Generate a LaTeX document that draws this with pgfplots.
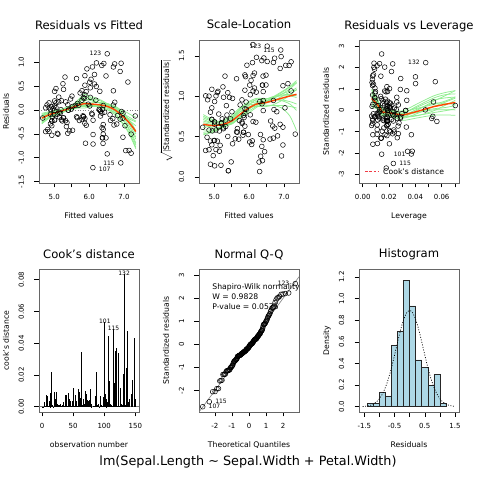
\documentclass[border=0pt]{standalone}
\usepackage{fontspec}
\setmainfont{DejaVu Sans}
\usepackage{pgfplots}
\usepackage{pgfplotstable}
\pgfplotsset{compat=1.18}
\definecolor{lgreen}{RGB}{144,238,144}
\definecolor{ored}{RGB}{255,69,0}
\definecolor{lblue}{RGB}{173,216,230}
\definecolor{cookred}{RGB}{240,60,70}
\newcommand\tks{\fontsize{7}{8}\selectfont}
\newcommand\lbs{\fontsize{7.7}{9}\selectfont}
\newcommand\tts{\fontsize{11.6}{13}\selectfont}
\newcommand\ots{\fontsize{12.8}{15}\selectfont}
\newcommand\pls{\fontsize{6}{7}\selectfont}

\pgfplotstableread{
i f e s h r d
1 5.048 0.052 0.340 0.0204 0.116 0.0001
2 4.849 0.051 0.338 0.0211 0.115 0.0001
3 4.929 -0.229 0.715 0.0184 -0.512 0.0016
4 4.889 -0.289 0.804 0.0193 -0.647 0.0027
5 5.088 -0.088 0.445 0.0227 -0.198 0.0003
6 5.403 -0.003 0.077 0.0327 -0.006 0.0000
7 5.106 -0.506 1.063 0.0170 -1.131 0.0074
8 5.009 -0.009 0.138 0.0189 -0.019 0.0000
9 4.809 -0.409 0.958 0.0237 -0.918 0.0068
10 4.792 0.108 0.493 0.0221 0.243 0.0004
11 5.128 0.272 0.781 0.0259 0.610 0.0033
12 5.009 -0.209 0.683 0.0189 -0.467 0.0014
13 4.752 0.048 0.329 0.0240 0.108 0.0001
14 4.752 -0.452 1.007 0.0240 -1.014 0.0084
15 5.248 0.552 1.118 0.0402 1.249 0.0218
16 5.602 0.098 0.474 0.0704 0.225 0.0013
17 5.403 -0.003 0.077 0.0327 -0.006 0.0000
18 5.146 -0.046 0.319 0.0187 -0.102 0.0001
19 5.265 0.435 0.989 0.0286 0.978 0.0094
20 5.265 -0.165 0.610 0.0286 -0.372 0.0014
21 5.009 0.392 0.936 0.0189 0.876 0.0049
22 5.323 -0.223 0.707 0.0233 -0.500 0.0020
23 5.088 -0.488 1.047 0.0227 -1.095 0.0093
24 5.260 -0.160 0.598 0.0127 -0.358 0.0006
25 5.009 -0.209 0.683 0.0189 -0.467 0.0014
26 4.849 0.151 0.582 0.0211 0.339 0.0008
27 5.203 -0.203 0.673 0.0153 -0.454 0.0011
28 5.048 0.152 0.583 0.0204 0.340 0.0008
29 5.009 0.192 0.655 0.0189 0.429 0.0012
30 4.929 -0.229 0.715 0.0184 -0.512 0.0016
31 4.889 -0.089 0.446 0.0193 -0.199 0.0003
32 5.203 0.197 0.663 0.0153 0.440 0.0010
33 5.191 0.009 0.145 0.0476 0.021 0.0000
34 5.328 0.172 0.626 0.0538 0.393 0.0029
35 4.889 0.011 0.158 0.0193 0.025 0.0000
36 4.929 0.071 0.399 0.0184 0.160 0.0002
37 5.048 0.452 1.006 0.0204 1.012 0.0071
38 4.991 -0.091 0.452 0.0246 -0.205 0.0004
39 4.849 -0.449 1.003 0.0211 -1.006 0.0073
40 5.009 0.092 0.453 0.0189 0.205 0.0003
41 5.146 -0.146 0.571 0.0187 -0.326 0.0007
42 4.667 -0.167 0.616 0.0525 -0.380 0.0027
43 4.929 -0.529 1.088 0.0184 -1.183 0.0087
44 5.437 -0.437 0.988 0.0149 -0.977 0.0048
45 5.363 -0.263 0.769 0.0276 -0.591 0.0033
46 4.946 -0.146 0.572 0.0185 -0.327 0.0007
47 5.168 -0.068 0.392 0.0298 -0.154 0.0002
48 4.929 -0.329 0.858 0.0184 -0.736 0.0034
49 5.128 0.172 0.621 0.0259 0.386 0.0013
50 4.969 0.031 0.265 0.0183 0.070 0.0000
51 6.095 0.905 1.419 0.0085 2.014 0.0116
52 6.193 0.207 0.680 0.0094 0.462 0.0007
53 6.153 0.747 1.290 0.0082 1.664 0.0076
54 5.639 -0.139 0.559 0.0289 -0.313 0.0010
55 6.033 0.467 1.020 0.0093 1.040 0.0034
56 5.839 -0.139 0.555 0.0091 -0.308 0.0003
57 6.330 -0.030 0.257 0.0129 -0.066 0.0000
58 5.387 -0.487 1.046 0.0271 -1.095 0.0111
59 5.878 0.722 1.267 0.0075 1.606 0.0065
60 5.896 -0.696 1.245 0.0112 -1.551 0.0091
61 5.228 -0.228 0.721 0.0564 -0.519 0.0054
62 6.113 -0.213 0.688 0.0077 -0.473 0.0006
63 5.307 0.693 1.252 0.0401 1.567 0.0342
64 5.976 0.124 0.526 0.0077 0.277 0.0002
65 5.878 -0.278 0.787 0.0075 -0.620 0.0010
66 6.055 0.645 1.198 0.0074 1.434 0.0051
67 6.113 -0.513 1.068 0.0077 -1.141 0.0034
68 5.507 0.293 0.809 0.0136 0.654 0.0020
69 5.794 0.407 0.957 0.0335 0.917 0.0097
70 5.524 0.076 0.412 0.0204 0.170 0.0002
71 6.484 -0.584 1.142 0.0138 -1.304 0.0079
72 5.839 0.262 0.763 0.0091 0.582 0.0010
73 5.913 0.387 0.930 0.0177 0.865 0.0045
74 5.741 0.359 0.894 0.0094 0.799 0.0020
75 5.878 0.522 1.077 0.0075 1.161 0.0034
76 6.016 0.585 1.140 0.0071 1.301 0.0040
77 5.936 0.864 1.387 0.0090 1.925 0.0112
78 6.307 0.393 0.936 0.0097 0.875 0.0025
79 6.073 -0.073 0.403 0.0081 -0.162 0.0001
80 5.467 0.233 0.722 0.0173 0.521 0.0016
81 5.484 0.016 0.187 0.0255 0.035 0.0000
82 5.387 0.113 0.503 0.0271 0.254 0.0006
83 5.701 0.099 0.469 0.0119 0.220 0.0002
84 6.090 -0.090 0.448 0.0116 -0.201 0.0002
85 6.113 -0.713 1.259 0.0077 -1.586 0.0065
86 6.370 -0.370 0.909 0.0160 -0.826 0.0037
87 6.153 0.547 1.104 0.0082 1.219 0.0041
88 5.639 0.661 1.219 0.0289 1.487 0.0219
89 5.918 -0.318 0.841 0.0068 -0.708 0.0011
90 5.719 -0.219 0.700 0.0185 -0.490 0.0015
91 5.662 -0.162 0.601 0.0152 -0.361 0.0007
92 6.016 0.085 0.434 0.0071 0.188 0.0001
93 5.662 0.139 0.556 0.0152 0.309 0.0005
94 5.347 -0.347 0.885 0.0332 -0.783 0.0070
95 5.799 -0.199 0.665 0.0114 -0.443 0.0008
96 5.821 -0.121 0.519 0.0068 -0.269 0.0002
97 5.878 -0.178 0.630 0.0075 -0.397 0.0004
98 5.878 0.322 0.846 0.0075 0.716 0.0013
99 5.524 -0.424 0.975 0.0204 -0.950 0.0063
100 5.839 -0.139 0.555 0.0091 -0.308 0.0003
101 7.205 -0.905 1.429 0.0370 -2.043 0.0535
102 6.382 -0.582 1.140 0.0141 -1.299 0.0080
103 6.696 0.404 0.950 0.0167 0.903 0.0046
104 6.364 -0.064 0.379 0.0109 -0.144 0.0001
105 6.793 -0.293 0.810 0.0192 -0.656 0.0028
106 6.696 0.904 1.422 0.0167 2.021 0.0231
107 6.108 -1.208 1.644 0.0179 -2.701 0.0443
108 6.364 0.936 1.444 0.0109 2.086 0.0160
109 6.205 0.495 1.053 0.0184 1.108 0.0077
110 7.324 -0.124 0.532 0.0533 -0.283 0.0015
111 6.679 -0.179 0.632 0.0180 -0.400 0.0010
112 6.382 0.018 0.202 0.0141 0.041 0.0000
113 6.696 0.104 0.482 0.0167 0.233 0.0003
114 6.399 -0.699 1.252 0.0203 -1.566 0.0169
115 6.908 -1.108 1.576 0.0233 -2.485 0.0491
116 6.970 -0.570 1.132 0.0263 -1.281 0.0148
117 6.404 0.096 0.462 0.0110 0.213 0.0002
118 7.113 0.588 1.158 0.0552 1.340 0.0350
119 6.731 0.969 1.474 0.0228 2.174 0.0367
120 5.794 0.207 0.682 0.0335 0.466 0.0025
121 6.970 -0.070 0.397 0.0263 -0.158 0.0002
122 6.519 -0.919 1.433 0.0144 -2.052 0.0205
123 6.519 1.181 1.624 0.0144 2.637 0.0339
124 6.285 0.015 0.185 0.0130 0.034 0.0000
125 6.816 -0.116 0.510 0.0236 -0.260 0.0005
126 6.484 0.716 1.264 0.0138 1.598 0.0119
127 6.325 -0.125 0.527 0.0115 -0.278 0.0003
128 6.404 -0.304 0.824 0.0110 -0.678 0.0017
129 6.616 -0.216 0.695 0.0162 -0.483 0.0013
130 6.210 0.990 1.485 0.0086 2.205 0.0141
131 6.422 0.978 1.477 0.0128 2.183 0.0206
132 6.918 0.982 1.494 0.0479 2.231 0.0834
133 6.713 -0.313 0.837 0.0183 -0.701 0.0031
134 6.033 0.267 0.771 0.0093 0.595 0.0011
135 5.856 0.244 0.738 0.0142 0.545 0.0014
136 6.890 0.810 1.347 0.0219 1.815 0.0246
137 7.147 -0.847 1.384 0.0377 -1.915 0.0479
138 6.444 -0.044 0.314 0.0120 -0.099 0.0000
139 6.404 -0.404 0.949 0.0110 -0.901 0.0030
140 6.736 0.164 0.606 0.0182 0.367 0.0008
141 7.028 -0.328 0.858 0.0269 -0.736 0.0050
142 6.930 -0.030 0.261 0.0237 -0.068 0.0000
143 6.382 -0.582 1.140 0.0141 -1.299 0.0080
144 6.970 -0.170 0.618 0.0263 -0.382 0.0013
145 7.205 -0.505 1.068 0.0370 -1.140 0.0166
146 6.890 -0.190 0.653 0.0219 -0.427 0.0014
147 6.302 -0.002 0.067 0.0192 -0.005 0.0000
148 6.599 -0.099 0.470 0.0146 -0.221 0.0002
149 7.050 -0.850 1.385 0.0341 -1.917 0.0433
150 6.404 -0.504 1.060 0.0110 -1.124 0.0047
}\diag

\pgfplotstableread{
q r
-2.713 -2.701
-2.326 -2.485
-2.128 -2.052
-1.989 -2.043
-1.881 -1.917
-1.791 -1.915
-1.713 -1.586
-1.645 -1.566
-1.583 -1.551
-1.528 -1.304
-1.476 -1.299
-1.428 -1.299
-1.383 -1.281
-1.341 -1.183
-1.301 -1.141
-1.263 -1.140
-1.227 -1.131
-1.192 -1.124
-1.158 -1.095
-1.126 -1.095
-1.095 -1.014
-1.065 -1.006
-1.036 -0.977
-1.008 -0.950
-0.980 -0.918
-0.954 -0.901
-0.928 -0.826
-0.903 -0.783
-0.878 -0.736
-0.854 -0.736
-0.830 -0.708
-0.806 -0.701
-0.783 -0.678
-0.761 -0.656
-0.739 -0.647
-0.717 -0.620
-0.695 -0.591
-0.674 -0.519
-0.654 -0.512
-0.633 -0.512
-0.613 -0.500
-0.593 -0.490
-0.573 -0.483
-0.553 -0.473
-0.534 -0.467
-0.515 -0.467
-0.496 -0.454
-0.477 -0.443
-0.459 -0.427
-0.440 -0.400
-0.422 -0.397
-0.404 -0.382
-0.385 -0.380
-0.367 -0.372
-0.349 -0.361
-0.332 -0.358
-0.314 -0.327
-0.297 -0.326
-0.279 -0.313
-0.262 -0.308
-0.245 -0.308
-0.228 -0.283
-0.210 -0.278
-0.193 -0.269
-0.176 -0.260
-0.160 -0.221
-0.143 -0.205
-0.126 -0.201
-0.109 -0.199
-0.092 -0.198
-0.075 -0.162
-0.059 -0.158
-0.042 -0.154
-0.025 -0.144
-0.008 -0.102
0.008 -0.099
0.025 -0.068
0.042 -0.066
0.059 -0.019
0.075 -0.006
0.092 -0.006
0.109 -0.005
0.126 0.021
0.143 0.025
0.160 0.034
0.176 0.035
0.193 0.041
0.210 0.070
0.228 0.108
0.245 0.115
0.262 0.116
0.279 0.160
0.297 0.170
0.314 0.188
0.332 0.205
0.349 0.213
0.367 0.220
0.385 0.225
0.404 0.233
0.422 0.243
0.440 0.254
0.459 0.277
0.477 0.309
0.496 0.339
0.515 0.340
0.534 0.367
0.553 0.386
0.573 0.393
0.593 0.429
0.613 0.440
0.633 0.462
0.654 0.466
0.674 0.521
0.695 0.545
0.717 0.582
0.739 0.595
0.761 0.610
0.783 0.654
0.806 0.716
0.830 0.799
0.854 0.865
0.878 0.875
0.903 0.876
0.928 0.903
0.954 0.917
0.980 0.978
1.008 1.012
1.036 1.040
1.065 1.108
1.095 1.161
1.126 1.219
1.158 1.249
1.192 1.301
1.227 1.340
1.263 1.434
1.301 1.487
1.341 1.567
1.383 1.598
1.428 1.606
1.476 1.664
1.528 1.815
1.583 1.925
1.645 2.014
1.713 2.021
1.791 2.086
1.881 2.174
1.989 2.183
2.128 2.205
2.326 2.231
2.713 2.637
}\qq

\pgfplotsset{
  rp/.style={
    scale only axis, width=100pt, height=143pt, anchor=south west,
    scaled x ticks=false, scaled y ticks=false,
    axis line style={draw=black!60, line width=0.9pt},
    every tick/.style={black, line width=0.5pt},
    tick align=outside, tick pos=left, major tick length=4.5pt,
    xticklabel style={font=\tks, anchor=base, yshift=-12pt},
    yticklabel style={font=\tks, xshift=-10.5pt, rotate=90, anchor=base},
    xlabel style={font=\lbs, at={(axis description cs:0.5,0)}, anchor=base, yshift=-35.5pt},
    ylabel style={font=\lbs, at={(axis description cs:-0.30,0.5)}, anchor=base},
    title style={font=\tts, at={(axis description cs:0.5,1)}, anchor=base, yshift=5pt},
    clip=true,
  },
  pts/.style={only marks, mark=o, mark size=2.4pt, black, mark options={line width=0.5pt}},
  gl/.style={lgreen, line width=0.75pt, smooth, tension=0.5},
  rl/.style={ored, line width=1.4pt, smooth, tension=0.5},
}

\begin{document}
\begin{tikzpicture}
\fill[white] (0,0) rectangle (480pt,480pt);
\path[use as bounding box] (0,0) rectangle (480pt,480pt);

% ---------------- Residuals vs Fitted
\begin{axis}[rp, at={(39pt,297pt)},
  xmin=4.561, xmax=7.431, ymin=-1.53, ymax=1.47,
  xtick={5,5.5,6,6.5,7}, xticklabels={5.0,,6.0,,7.0},
  ytick={-1.5,-1,-0.5,0,0.5,1}, yticklabels={-1.5,-1.0,-0.5,0.0,0.5,1.0},
  title={Residuals vs Fitted}, xlabel={Fitted values}, ylabel={Residuals}]
\addplot[gray, dotted, line width=0.6pt] coordinates {(4.4,0) (7.6,0)};
\addplot[pts] table[x=f,y=e]{\diag};
\addplot[gl] coordinates {(4.64,-0.09)(4.88,-0.04)(5.2,0.01)(5.5,0.08)(5.7,0.185)(5.88,0.285)(6.1,0.205)(6.35,0.145)(6.55,0.10)(6.75,0.06)(6.9,0.01)(7.08,-0.05)(7.22,-0.11)(7.34,-0.15)};
\addplot[gl] coordinates {(4.64,-0.25)(4.88,-0.14)(5.2,-0.05)(5.5,0.04)(5.7,0.075)(5.88,0.075)(6.1,0.075)(6.35,0.075)(6.55,0.03)(6.75,-0.07)(6.9,-0.21)(7.08,-0.39)(7.22,-0.58)(7.34,-0.78)};
\addplot[gl] coordinates {(4.64,-0.14)(4.88,-0.07)(5.2,0.0)(5.5,0.09)(5.7,0.225)(5.88,0.335)(6.1,0.225)(6.35,0.125)(6.55,0.05)(6.75,-0.03)(6.9,-0.10)(7.08,-0.18)(7.22,-0.26)(7.34,-0.33)};
\addplot[gl] coordinates {(4.64,-0.27)(4.88,-0.15)(5.2,-0.06)(5.5,0.01)(5.7,0.045)(5.88,0.045)(6.1,0.075)(6.35,0.105)(6.55,0.10)(6.75,0.05)(6.9,-0.02)(7.08,-0.14)(7.22,-0.28)(7.34,-0.43)};
\addplot[gl] coordinates {(4.64,-0.07)(4.88,-0.03)(5.2,0.01)(5.5,0.05)(5.7,0.085)(5.88,0.095)(6.1,0.095)(6.35,0.105)(6.55,0.09)(6.75,0.0)(6.9,-0.14)(7.08,-0.33)(7.22,-0.53)(7.34,-0.73)};
\addplot[gl] coordinates {(4.64,-0.20)(4.88,-0.09)(5.2,-0.01)(5.5,0.08)(5.7,0.165)(5.88,0.235)(6.1,0.185)(6.35,0.155)(6.55,0.13)(6.75,0.08)(6.9,0.0)(7.08,-0.15)(7.22,-0.32)(7.34,-0.50)};
\addplot[gl] coordinates {(4.64,-0.17)(4.88,-0.11)(5.2,-0.03)(5.5,0.07)(5.7,0.145)(5.88,0.155)(6.1,0.095)(6.35,0.045)(6.55,0.0)(6.75,-0.05)(6.9,-0.10)(7.08,-0.16)(7.22,-0.21)(7.34,-0.25)};
\addplot[gl] coordinates {(4.64,-0.12)(4.88,-0.06)(5.2,-0.02)(5.5,0.03)(5.7,0.105)(5.88,0.195)(6.1,0.235)(6.35,0.185)(6.55,0.10)(6.75,-0.01)(6.9,-0.14)(7.08,-0.31)(7.22,-0.49)(7.34,-0.69)};
\addplot[gl] coordinates {(4.64,-0.23)(4.88,-0.13)(5.2,-0.03)(5.5,0.06)(5.7,0.135)(5.88,0.135)(6.1,0.105)(6.35,0.125)(6.55,0.12)(6.75,0.03)(6.9,-0.09)(7.08,-0.26)(7.22,-0.43)(7.34,-0.61)};
\addplot[gl] coordinates {(4.64,-0.11)(4.88,-0.05)(5.2,0.02)(5.5,0.10)(5.7,0.185)(5.88,0.265)(6.1,0.275)(6.35,0.205)(6.55,0.12)(6.75,0.02)(6.9,-0.05)(7.08,-0.12)(7.22,-0.18)(7.34,-0.23)};
\addplot[gl] coordinates {(4.64,-0.29)(4.88,-0.16)(5.2,-0.06)(5.5,0.03)(5.7,0.105)(5.88,0.155)(6.1,0.125)(6.35,0.065)(6.55,0.0)(6.75,-0.10)(6.9,-0.23)(7.08,-0.41)(7.22,-0.61)(7.34,-0.81)};
\addplot[gl] coordinates {(4.64,-0.15)(4.88,-0.08)(5.2,-0.03)(5.5,0.02)(5.7,0.065)(5.88,0.115)(6.1,0.155)(6.35,0.155)(6.55,0.13)(6.75,0.05)(6.9,-0.06)(7.08,-0.21)(7.22,-0.38)(7.34,-0.57)};
\addplot[rl] coordinates {(4.64,-0.17)(4.88,-0.09)(5.2,-0.02)(5.5,0.05)(5.7,0.105)(5.88,0.135)(6.1,0.125)(6.35,0.105)(6.55,0.07)(6.75,0.0)(6.9,-0.09)(7.08,-0.21)(7.22,-0.33)(7.34,-0.45)};
\node[font=\pls, anchor=east, xshift=-2.5pt] at (axis cs:6.519,1.181) {123};
\node[font=\pls, anchor=west, xshift=2.5pt, yshift=-1.5pt] at (axis cs:6.108,-1.208) {107};
\node[font=\pls, anchor=east, xshift=-2.5pt] at (axis cs:6.908,-1.108) {115};
\end{axis}

% ---------------- Scale-Location
\begin{axis}[rp, at={(199pt,297pt)},
  xmin=4.561, xmax=7.431, ymin=-0.075, ymax=1.70,
  xtick={5,5.5,6,6.5,7}, xticklabels={5.0,,6.0,,7.0},
  ytick={0,0.5,1,1.5}, yticklabels={0.0,0.5,1.0,1.5},
  title={Scale-Location}, xlabel={Fitted values},
  ylabel={$\sqrt{|\mbox{Standardized residuals}|}$}]
\addplot[pts] table[x=f,y=s]{\diag};
\addplot[gl] coordinates {(4.685,0.754)(4.97,0.697)(5.26,0.694)(5.50,0.735)(5.74,0.838)(5.98,0.903)(6.22,0.936)(6.46,0.942)(6.69,0.987)(6.93,1.047)(7.17,1.115)(7.36,1.176)};
\addplot[gl] coordinates {(4.685,0.554)(4.97,0.577)(5.26,0.614)(5.50,0.665)(5.74,0.728)(5.98,0.813)(6.22,0.876)(6.46,0.882)(6.69,0.887)(6.93,0.887)(7.17,0.875)(7.36,0.856)};
\addplot[gl] coordinates {(4.685,0.694)(4.97,0.667)(5.26,0.704)(5.50,0.765)(5.74,0.858)(5.98,0.893)(6.22,0.906)(6.46,0.912)(6.69,0.947)(6.93,0.997)(7.17,1.055)(7.36,1.106)};
\addplot[gl] coordinates {(4.685,0.534)(4.97,0.567)(5.26,0.624)(5.50,0.695)(5.74,0.748)(5.98,0.793)(6.22,0.866)(6.46,0.922)(6.69,0.977)(6.93,1.027)(7.17,1.065)(7.36,1.076)};
\addplot[gl] coordinates {(4.685,0.774)(4.97,0.707)(5.26,0.674)(5.50,0.675)(5.74,0.738)(5.98,0.833)(6.22,0.906)(6.46,0.942)(6.69,0.957)(6.93,0.947)(7.17,0.905)(7.36,0.826)};
\addplot[gl] coordinates {(4.685,0.614)(4.97,0.637)(5.26,0.674)(5.50,0.725)(5.74,0.828)(5.98,0.923)(6.22,0.956)(6.46,0.962)(6.69,0.997)(6.93,1.057)(7.17,1.125)(7.36,1.196)};
\addplot[gl] coordinates {(4.685,0.654)(4.97,0.607)(5.26,0.634)(5.50,0.705)(5.74,0.808)(5.98,0.863)(6.22,0.876)(6.46,0.872)(6.69,0.897)(6.93,0.947)(7.17,1.015)(7.36,1.086)};
\addplot[gl] coordinates {(4.685,0.714)(4.97,0.667)(5.26,0.654)(5.50,0.665)(5.74,0.758)(5.98,0.883)(6.22,0.966)(6.46,0.972)(6.69,0.967)(6.93,0.957)(7.17,0.935)(7.36,0.906)};
\addplot[gl] coordinates {(4.685,0.584)(4.97,0.587)(5.26,0.634)(5.50,0.715)(5.74,0.808)(5.98,0.853)(6.22,0.886)(6.46,0.932)(6.69,0.987)(6.93,1.007)(7.17,1.005)(7.36,0.986)};
\addplot[gl] coordinates {(4.685,0.734)(4.97,0.687)(5.26,0.694)(5.50,0.745)(5.74,0.848)(5.98,0.933)(6.22,0.976)(6.46,0.972)(6.69,0.977)(6.93,1.027)(7.17,1.095)(7.36,1.166)};
\addplot[gl] coordinates {(4.685,0.524)(4.97,0.557)(5.26,0.614)(5.50,0.675)(5.74,0.778)(5.98,0.863)(6.22,0.906)(6.46,0.892)(6.69,0.887)(6.93,0.857)(7.17,0.755)(7.36,0.576)};
\addplot[gl] coordinates {(4.685,0.674)(4.97,0.647)(5.26,0.634)(5.50,0.655)(5.74,0.738)(5.98,0.843)(6.22,0.926)(6.46,0.962)(6.69,0.997)(6.93,1.017)(7.17,1.025)(7.36,1.006)};
\addplot[rl] coordinates {(4.685,0.654)(4.97,0.637)(5.26,0.654)(5.50,0.695)(5.74,0.778)(5.98,0.853)(6.22,0.906)(6.46,0.922)(6.69,0.947)(6.93,0.977)(7.17,1.005)(7.36,1.026)};
\node[font=\pls, anchor=east, xshift=-2.5pt] at (axis cs:6.519,1.624) {123};
\node[font=\pls, anchor=east, xshift=-2.5pt] at (axis cs:6.908,1.576) {115};
\end{axis}

% ---------------- Residuals vs Leverage
\begin{axis}[rp, at={(359pt,297pt)},
  xmin=-0.00282, xmax=0.07322, ymin=-3.40, ymax=3.29,
  xtick={0,0.01,0.02,0.03,0.04,0.05,0.06,0.07}, xticklabels={0.00,,0.02,,0.04,,0.06,},
  ytick={-3,-2,-1,0,1,2,3}, yticklabels={-3,-2,-1,0,1,2,3},
  title={Residuals vs Leverage}, xlabel={Leverage}, ylabel={Standardized residuals}]
\addplot[pts] table[x=h,y=r]{\diag};
\addplot[gl] coordinates {(0.0068,0.95)(0.0105,0.58)(0.0150,0.07)(0.0200,0.01)(0.0250,-0.02)(0.0310,-0.02)(0.0410,0.29)(0.0537,0.67)(0.0626,0.83)(0.0704,0.92)};
\addplot[gl] coordinates {(0.0068,0.15)(0.0105,0.08)(0.0150,-0.26)(0.0200,-0.26)(0.0250,-0.37)(0.0310,-0.47)(0.0410,-0.36)(0.0537,-0.23)(0.0626,-0.22)(0.0704,-0.23)};
\addplot[gl] coordinates {(0.0068,0.70)(0.0105,0.43)(0.0150,0.12)(0.0200,0.04)(0.0250,-0.09)(0.0310,-0.12)(0.0410,0.14)(0.0537,0.47)(0.0626,0.58)(0.0704,0.62)};
\addplot[gl] coordinates {(0.0068,0.30)(0.0105,0.18)(0.0150,-0.13)(0.0200,-0.19)(0.0250,-0.29)(0.0310,-0.37)(0.0410,-0.16)(0.0537,0.17)(0.0626,0.38)(0.0704,0.57)};
\addplot[gl] coordinates {(0.0068,0.85)(0.0105,0.51)(0.0150,-0.03)(0.0200,-0.11)(0.0250,-0.22)(0.0310,-0.24)(0.0410,0.04)(0.0537,0.32)(0.0626,0.33)(0.0704,0.27)};
\addplot[gl] coordinates {(0.0068,0.45)(0.0105,0.28)(0.0150,0.00)(0.0200,-0.01)(0.0250,-0.12)(0.0310,-0.22)(0.0410,-0.11)(0.0537,0.02)(0.0626,0.03)(0.0704,0.02)};
\addplot[gl] coordinates {(0.0068,0.60)(0.0105,0.33)(0.0150,-0.18)(0.0200,-0.17)(0.0250,-0.17)(0.0310,-0.14)(0.0410,0.19)(0.0537,0.57)(0.0626,0.73)(0.0704,0.77)};
\addplot[gl] coordinates {(0.0068,0.25)(0.0105,0.13)(0.0150,-0.18)(0.0200,-0.13)(0.0250,-0.12)(0.0310,-0.17)(0.0410,-0.06)(0.0537,0.07)(0.0626,0.13)(0.0704,0.22)};
\addplot[gl] coordinates {(0.0068,0.75)(0.0105,0.45)(0.0150,-0.08)(0.0200,-0.21)(0.0250,-0.32)(0.0310,-0.32)(0.0410,-0.01)(0.0537,0.42)(0.0626,0.68)(0.0704,0.92)};
\addplot[gl] coordinates {(0.0068,0.40)(0.0105,0.23)(0.0150,-0.06)(0.0200,-0.06)(0.0250,-0.15)(0.0310,-0.28)(0.0410,-0.24)(0.0537,-0.11)(0.0626,-0.02)(0.0704,0.07)};
\addplot[gl] coordinates {(0.0068,1.00)(0.0105,0.63)(0.0150,0.02)(0.0200,-0.06)(0.0250,-0.07)(0.0310,-0.07)(0.0410,0.09)(0.0537,0.27)(0.0626,0.43)(0.0704,0.62)};
\addplot[gl] coordinates {(0.0068,0.50)(0.0105,0.31)(0.0150,-0.23)(0.0200,-0.23)(0.0250,-0.25)(0.0310,-0.32)(0.0410,-0.26)(0.0537,-0.03)(0.0626,0.23)(0.0704,0.47)};
\addplot[ored, line width=1.4pt] coordinates {(0.0068,0.55)(0.0105,0.33)(0.0150,-0.08)(0.0200,-0.11)(0.0250,-0.17)(0.0310,-0.22)(0.0410,-0.06)(0.0537,0.17)(0.0626,0.28)(0.0704,0.37)};
\node[font=\pls, anchor=east, xshift=-2.5pt] at (axis cs:0.0479,2.231) {132};
\node[font=\pls, anchor=east, xshift=-2.5pt] at (axis cs:0.0370,-2.043) {101};
\node[font=\pls, anchor=west, xshift=2.5pt] at (axis cs:0.0233,-2.485) {115};
\draw[cookred, line width=0.8pt, dash pattern=on 2.5pt off 1.8pt] (axis description cs:0.06,0.079) -- (axis description cs:0.19,0.079);
\node[font=\lbs, anchor=west, inner sep=0pt] at (axis description cs:0.24,0.079) {Cook's distance};
\end{axis}

% ---------------- Cook's distance
\begin{axis}[rp, at={(39pt,68pt)},
  xmin=-4.96, xmax=155.96, ymin=-0.00334, ymax=0.08676,
  xtick={0,50,100,150}, xticklabels={0,50,100,150},
  ytick={0,0.02,0.04,0.06,0.08}, yticklabels={0.00,0.02,0.04,0.06,0.08},
  title={Cook's distance}, xlabel={observation number}, ylabel={cook's distance}]
\addplot[gray, line width=0.6pt] coordinates {(-10,0) (160,0)};
\addplot[ycomb, black, line width=0.7pt] table[x=i,y=d]{\diag};
\node[font=\pls, anchor=base, yshift=-1.5pt] at (axis cs:132,0.0834) {132};
\node[font=\pls, anchor=base, yshift=-1.5pt] at (axis cs:101,0.0535) {101};
\node[font=\pls, anchor=base, yshift=-1.5pt] at (axis cs:115,0.0491) {115};
\end{axis}

% ---------------- Normal Q-Q
\begin{axis}[rp, at={(199pt,68pt)},
  xmin=-2.93, xmax=2.93, ymin=-2.93, ymax=3.27,
  xtick={-2,-1,0,1,2}, xticklabels={-2,-1,0,1,2},
  ytick={-2,-1,0,1,2,3}, yticklabels={-2,-1,0,1,2,3},
  title={Normal Q-Q}, xlabel={Theoretical Quantiles}, ylabel={Standardized residuals}]
\addplot[gray, line width=0.6pt] coordinates {(-3.5,-3.5) (3.5,3.5)};
\addplot[pts] table[x=q,y=r]{\qq};
\node[font=\lbs, anchor=west] at (axis cs:-2.35,2.46) {Shapiro-Wilk normality test};
\node[font=\lbs, anchor=west] at (axis cs:-2.35,2.07) {W = 0.9828};
\node[font=\lbs, anchor=west] at (axis cs:-2.35,1.63) {P-value = 0.0575};
\node[font=\pls, anchor=east, xshift=-2.5pt] at (axis cs:2.713,2.637) {123};
\node[font=\pls, anchor=west, xshift=2.5pt] at (axis cs:-2.326,-2.485) {115};
\node[font=\pls, anchor=west, xshift=2.5pt] at (axis cs:-2.713,-2.701) {107};
\end{axis}

% ---------------- Histogram
\begin{axis}[rp, at={(359pt,68pt)},
  xmin=-1.677, xmax=1.631, ymin=-0.049, ymax=1.274,
  xtick={-1.5,-1,-0.5,0,0.5,1,1.5}, xticklabels={-1.5,,-0.5,,0.5,,1.5},
  ytick={0,0.2,0.4,0.6,0.8,1.0,1.2}, yticklabels={0.0,0.2,0.4,0.6,0.8,1.0,1.2},
  title={Histogram}, xlabel={Residuals}, ylabel={Density}]
\addplot[ybar interval, fill=lblue, draw=black!85, line width=0.6pt] coordinates {(-1.4,0.0333) (-1.2,0.0333) (-1.0,0.1333) (-0.8,0.1) (-0.6,0.5667) (-0.4,0.7) (-0.2,1.1667) (0,0.9333) (0.2,0.4333) (0.4,0.3667) (0.6,0.2) (0.8,0.3) (1.0,0.0333) (1.2,0.0333)};
\addplot[black, line width=0.7pt, dash pattern=on 1pt off 1.6pt, smooth] coordinates {(-1.56,0.0021)(-1.5,0.0033)(-1.4,0.0068)(-1.3,0.0132)(-1.2,0.0247)(-1.1,0.0437)(-1.0,0.0738)(-0.9,0.1184)(-0.8,0.1808)(-0.7,0.2628)(-0.6,0.3632)(-0.5,0.4777)(-0.4,0.5977)(-0.3,0.7116)(-0.2,0.8060)(-0.1,0.8685)(0,0.8904)(0.1,0.8685)(0.2,0.8060)(0.3,0.7116)(0.4,0.5977)(0.5,0.4777)(0.6,0.3632)(0.7,0.2628)(0.8,0.1808)(0.9,0.1184)(1.0,0.0738)(1.1,0.0437)(1.2,0.0247)(1.3,0.0132)(1.4,0.0068)(1.5,0.0033)};
\end{axis}

\node[font=\ots, anchor=base] at (248pt,14pt) {lm(Sepal.Length \textasciitilde{} Sepal.Width + Petal.Width)};
\end{tikzpicture}
\end{document}
